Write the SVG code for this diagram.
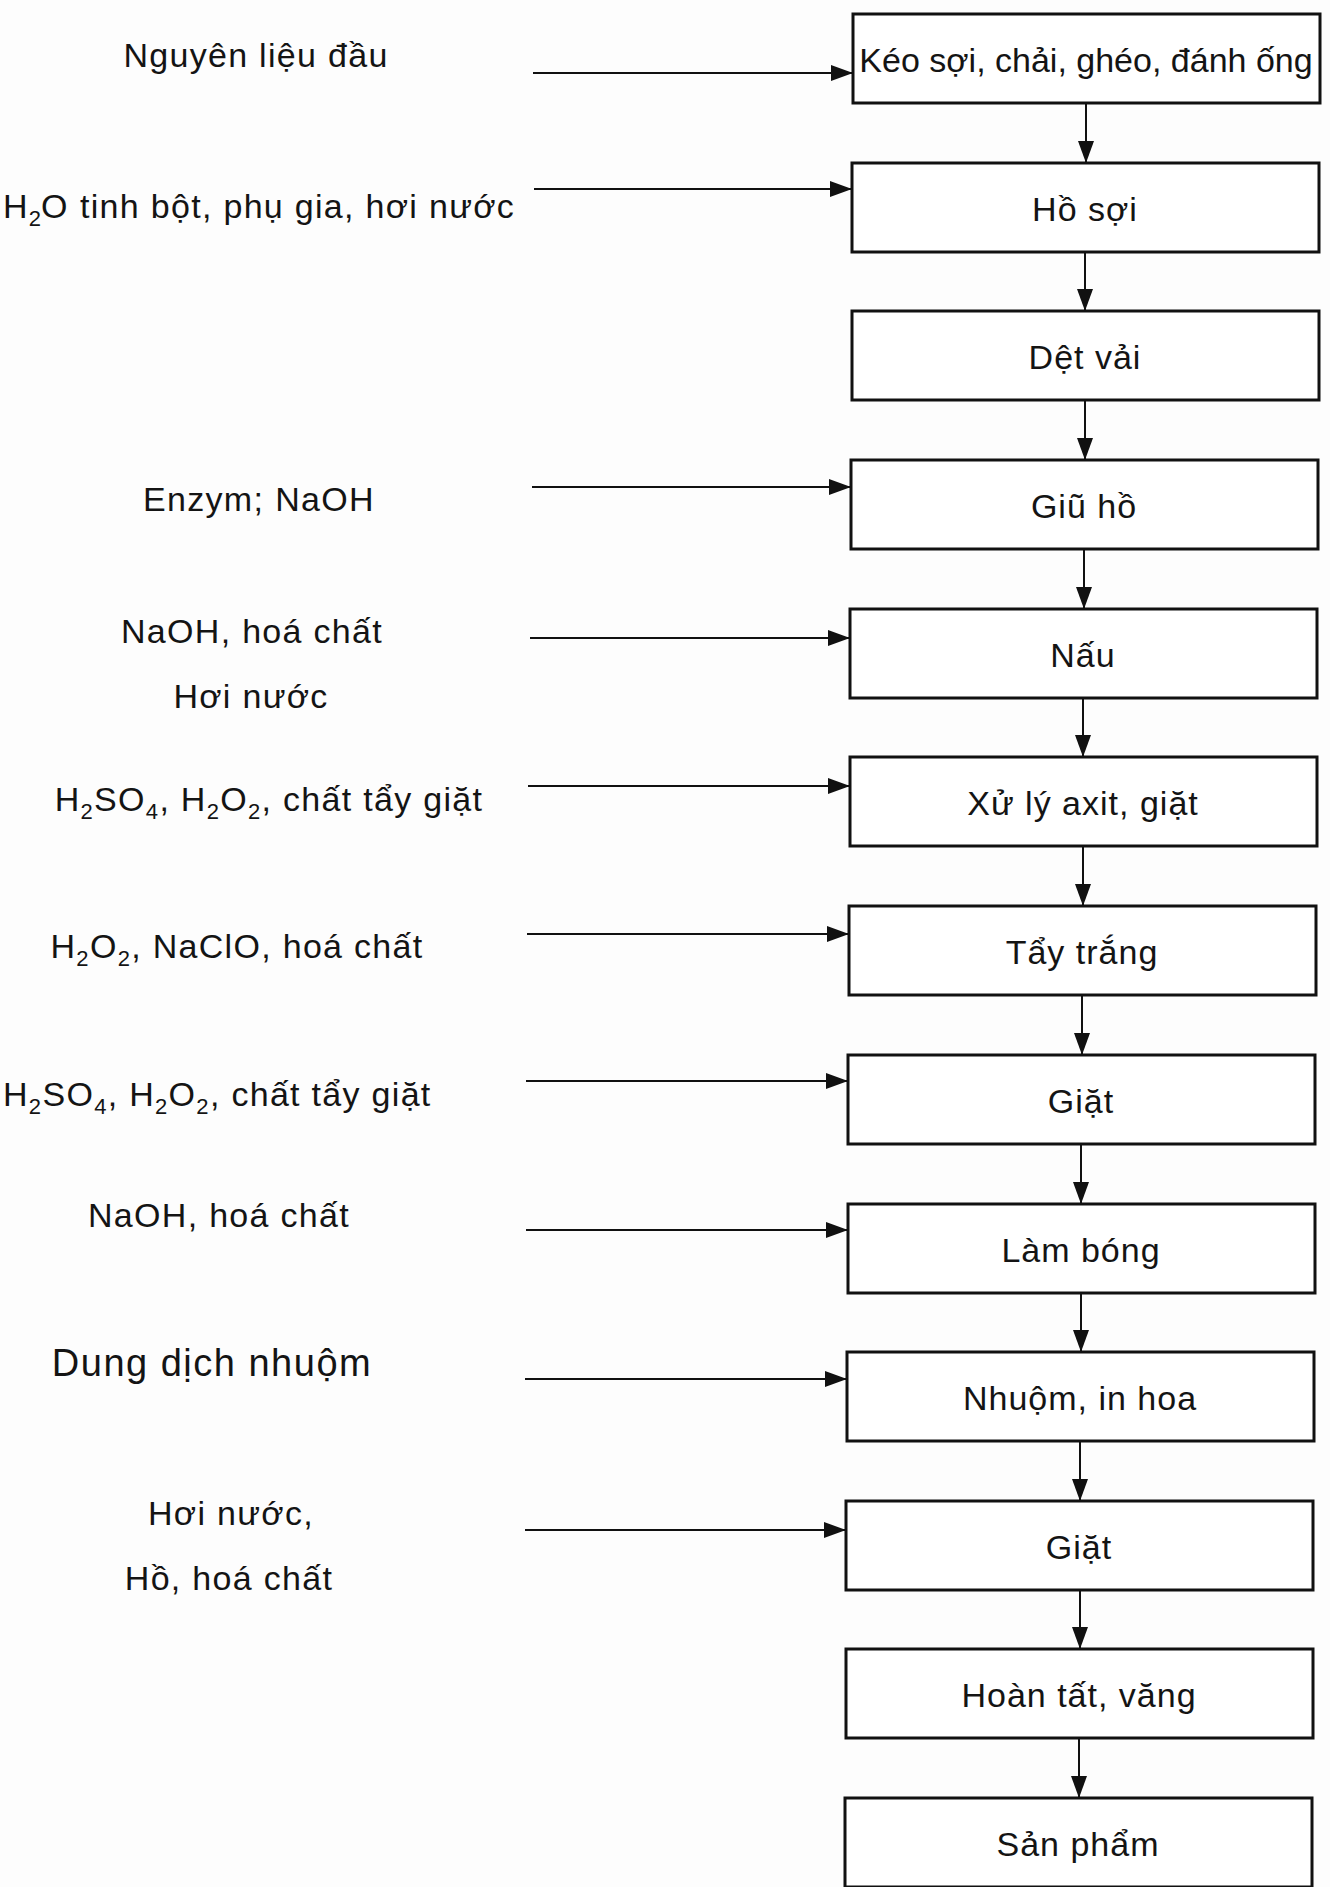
<svg xmlns="http://www.w3.org/2000/svg" width="1330" height="1887" viewBox="0 0 1330 1887">
<style>
.box{fill:#fff;stroke:#111;stroke-width:3}
.conn{stroke:#111;stroke-width:2;fill:none}
.lbl{font-family:"Liberation Sans",Arial,sans-serif;font-size:34px;fill:#141414;letter-spacing:1.3px}
.mid{text-anchor:middle}
.blbl{font-family:"Liberation Sans",Arial,sans-serif;font-size:34px;fill:#141414;letter-spacing:1px;text-anchor:middle}
.sub{font-size:22px}
</style>
<defs>
<marker id="ah" markerUnits="userSpaceOnUse" markerWidth="22" markerHeight="16" viewBox="0 0 22 16" refX="22" refY="8" orient="auto">
<path d="M0,0 L22,8 L0,16 Z" fill="#111"/>
</marker>
</defs>
<rect width="1330" height="1887" fill="#fdfdfd"/>

<g id="connectors">
<line class="conn" x1="533" y1="73" x2="853" y2="73" marker-end="url(#ah)"/>
<line class="conn" x1="534" y1="189" x2="852" y2="189" marker-end="url(#ah)"/>
<line class="conn" x1="532" y1="487" x2="851" y2="487" marker-end="url(#ah)"/>
<line class="conn" x1="530" y1="638" x2="850" y2="638" marker-end="url(#ah)"/>
<line class="conn" x1="528" y1="786" x2="850" y2="786" marker-end="url(#ah)"/>
<line class="conn" x1="527" y1="934" x2="849" y2="934" marker-end="url(#ah)"/>
<line class="conn" x1="526" y1="1081" x2="848" y2="1081" marker-end="url(#ah)"/>
<line class="conn" x1="526" y1="1230" x2="848" y2="1230" marker-end="url(#ah)"/>
<line class="conn" x1="525" y1="1379" x2="847" y2="1379" marker-end="url(#ah)"/>
<line class="conn" x1="525" y1="1530" x2="846" y2="1530" marker-end="url(#ah)"/>

<line class="conn" x1="1086" y1="103" x2="1086" y2="163" marker-end="url(#ah)"/>
<line class="conn" x1="1085" y1="252" x2="1085" y2="311" marker-end="url(#ah)"/>
<line class="conn" x1="1085" y1="400" x2="1085" y2="460" marker-end="url(#ah)"/>
<line class="conn" x1="1084" y1="549" x2="1084" y2="609" marker-end="url(#ah)"/>
<line class="conn" x1="1083" y1="698" x2="1083" y2="757" marker-end="url(#ah)"/>
<line class="conn" x1="1083" y1="846" x2="1083" y2="906" marker-end="url(#ah)"/>
<line class="conn" x1="1082" y1="995" x2="1082" y2="1055" marker-end="url(#ah)"/>
<line class="conn" x1="1081" y1="1144" x2="1081" y2="1204" marker-end="url(#ah)"/>
<line class="conn" x1="1081" y1="1293" x2="1081" y2="1352" marker-end="url(#ah)"/>
<line class="conn" x1="1080" y1="1441" x2="1080" y2="1501" marker-end="url(#ah)"/>
<line class="conn" x1="1080" y1="1590" x2="1080" y2="1649" marker-end="url(#ah)"/>
<line class="conn" x1="1079" y1="1738" x2="1079" y2="1798" marker-end="url(#ah)"/>
</g>

<g id="n0"><rect class="box" x="853" y="14" width="467" height="89"/><text class="blbl" x="1086" y="72" style="letter-spacing:0">Kéo sợi, chải, ghéo, đánh ống</text></g>
<g id="n1"><rect class="box" x="852" y="163" width="467" height="89"/><text class="blbl" x="1085" y="221">Hồ sợi</text></g>
<g id="n2"><rect class="box" x="852" y="311" width="467" height="89"/><text class="blbl" x="1085" y="369">Dệt vải</text></g>
<g id="n3"><rect class="box" x="851" y="460" width="467" height="89"/><text class="blbl" x="1084" y="518">Giũ hồ</text></g>
<g id="n4"><rect class="box" x="850" y="609" width="467" height="89"/><text class="blbl" x="1083" y="667">Nấu</text></g>
<g id="n5"><rect class="box" x="850" y="757" width="467" height="89"/><text class="blbl" x="1083" y="815">Xử lý axit, giặt</text></g>
<g id="n6"><rect class="box" x="849" y="906" width="467" height="89"/><text class="blbl" x="1082" y="964">Tẩy trắng</text></g>
<g id="n7"><rect class="box" x="848" y="1055" width="467" height="89"/><text class="blbl" x="1081" y="1113">Giặt</text></g>
<g id="n8"><rect class="box" x="848" y="1204" width="467" height="89"/><text class="blbl" x="1081" y="1262">Làm bóng</text></g>
<g id="n9"><rect class="box" x="847" y="1352" width="467" height="89"/><text class="blbl" x="1080" y="1410">Nhuộm, in hoa</text></g>
<g id="n10"><rect class="box" x="846" y="1501" width="467" height="89"/><text class="blbl" x="1079" y="1559">Giặt</text></g>
<g id="n11"><rect class="box" x="846" y="1649" width="467" height="89"/><text class="blbl" x="1079" y="1707">Hoàn tất, văng</text></g>
<g id="n12"><rect class="box" x="845" y="1798" width="467" height="89"/><text class="blbl" x="1078" y="1856">Sản phẩm</text></g>

<g id="inputs">
<text class="lbl mid" x="256" y="67">Nguyên liệu đầu</text>
<text class="lbl" x="3" y="218">H<tspan class="sub" dy="8" style="letter-spacing:0">2</tspan><tspan dy="-8">O</tspan><tspan x="80">tinh bột, phụ gia, hơi nước</tspan></text>
<text class="lbl mid" x="259" y="511">Enzym;<tspan dx="11">NaOH</tspan></text>
<text class="lbl mid" x="252" y="643">NaOH, hoá chất</text>
<text class="lbl mid" x="251" y="708">Hơi nước</text>
<text class="lbl mid" x="269" y="811">H<tspan class="sub" dy="8">2</tspan><tspan dy="-8">SO</tspan><tspan class="sub" dy="8">4</tspan><tspan dy="-8">, H</tspan><tspan class="sub" dy="8">2</tspan><tspan dy="-8">O</tspan><tspan class="sub" dy="8">2</tspan><tspan dy="-8">, chất tẩy giặt</tspan></text>
<text class="lbl mid" x="237" y="958">H<tspan class="sub" dy="8">2</tspan><tspan dy="-8">O</tspan><tspan class="sub" dy="8">2</tspan><tspan dy="-8">, NaClO, hoá chất</tspan></text>
<text class="lbl" x="3" y="1106">H<tspan class="sub" dy="8">2</tspan><tspan dy="-8">SO</tspan><tspan class="sub" dy="8">4</tspan><tspan dy="-8">, H</tspan><tspan class="sub" dy="8">2</tspan><tspan dy="-8">O</tspan><tspan class="sub" dy="8">2</tspan><tspan dy="-8">, chất tẩy giặt</tspan></text>
<text class="lbl mid" x="219" y="1227">NaOH, hoá chất</text>
<text class="lbl mid" x="212" y="1376" style="font-size:38px;letter-spacing:1.5px">Dung dịch nhuộm</text>
<text class="lbl mid" x="231" y="1525">Hơi nước,</text>
<text class="lbl mid" x="229" y="1590">Hồ, hoá chất</text>
</g>
</svg>
